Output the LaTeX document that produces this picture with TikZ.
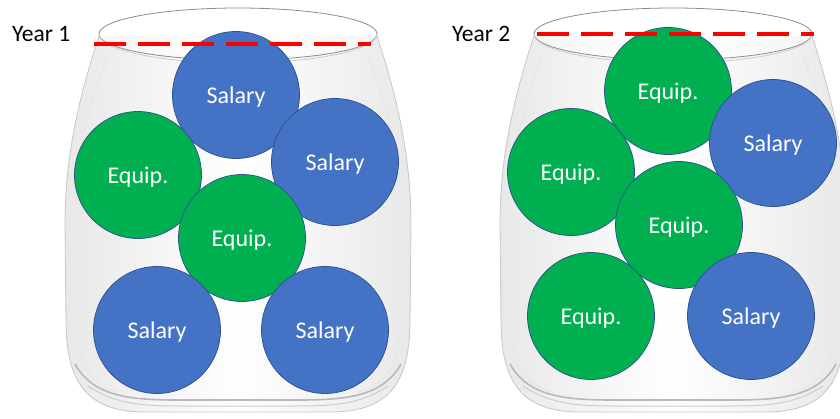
\documentclass[tikz,border=0pt]{standalone}
\usepackage{fontspec}
\setmainfont{Carlito}
\definecolor{salBlue}{HTML}{4472C4}
\definecolor{eqGreen}{HTML}{00B050}
\definecolor{ballEdge}{HTML}{2F528F}
\definecolor{dashRed}{HTML}{FF0000}
\tikzset{
  ball/.style={circle, draw=ballEdge, line width=0.75pt, minimum size=127pt, inner sep=0pt, text height=18pt, text depth=2pt, text=white, font=\fontsize{24}{28}\selectfont},
  salary/.style={ball, fill=salBlue},
  equip/.style={ball, fill=eqGreen},
  yearlbl/.style={inner sep=0pt, anchor=base west, text=black, font=\fontsize{23.5}{28}\selectfont},
  redline/.style={draw=dashRed, line width=4pt, dash pattern=on 32pt off 12pt},
  glass/.pic={
    \shade[left color=black!9, right color=black!9, middle color=white]
      (-139,2) .. controls (-158,60) and (-173,120) .. (-173,190) -- (-172,290)
      .. controls (-171,350) and (-150,377) .. (-95,378) -- (95,378)
      .. controls (150,377) and (171,350) .. (172,290) -- (173,190)
      .. controls (173,120) and (158,60) .. (139,2) -- cycle;
    \draw[black!22, line width=0.8pt]
      (-139,2) .. controls (-158,60) and (-173,120) .. (-173,190) -- (-172,290)
      .. controls (-171,350) and (-150,377) .. (-95,378) -- (95,378)
      .. controls (150,377) and (171,350) .. (172,290) -- (173,190)
      .. controls (173,120) and (158,60) .. (139,2);
    \draw[black!9, line width=1.5pt]
      (-130,22) .. controls (-150,70) and (-163,125) .. (-163,190) -- (-162,290)
      .. controls (-161,330) and (-150,350) .. (-120,358);
    \draw[black!9, line width=1.5pt]
      (130,22) .. controls (150,70) and (163,125) .. (163,190) -- (162,290)
      .. controls (161,330) and (150,350) .. (120,358);
    \draw[black!28, line width=1.6pt]
      (-163,330) .. controls (-145,362) and (-110,366) .. (-60,366) -- (60,366)
      .. controls (110,366) and (145,362) .. (163,330);
    \draw[black!20, line width=1pt]
      (-150,352) .. controls (-120,372) and (-90,372) .. (-50,372) -- (50,372)
      .. controls (90,372) and (120,372) .. (150,352);
    \fill[white, opacity=0.5] (0,0) ellipse [x radius=139, y radius=26];
    \draw[black!45, line width=0.8pt] (0,0) ellipse [x radius=139, y radius=26];
    \draw[black!20, line width=0.8pt] (139,0) arc[start angle=0, end angle=180, x radius=139, y radius=29];
  }
}
\begin{document}
\begin{tikzpicture}[x=1pt, y=-1pt]
\useasboundingbox (0,0) rectangle (840,418);
\fill[white] (0,0) rectangle (840,418);
\begin{scope}
\clip (0,0) rectangle (840,418);
\pic at (238,34) {glass};
\pic at (673,34) {glass};
\end{scope}
% Year 1
\node[yearlbl] (y1) at (12,41) {Year 1};
\node[salary] (a1) at (236,95) {Salary};
\node[equip]  (a2) at (138,175) {Equip.};
\node[salary] (a3) at (335,162) {Salary};
\node[equip]  (a4) at (242,238) {Equip.};
\node[salary] (a5) at (157,330) {Salary};
\node[salary] (a6) at (325,330) {Salary};
\coordinate (r1a) at (94,44);
\coordinate (r1b) at (371,44);
\draw[redline] (r1a) -- (r1b);
% Year 2
\node[yearlbl] (y2) at (452,41) {Year 2};
\node[equip]  (b1) at (668,91) {Equip.};
\node[salary] (b2) at (773,143) {Salary};
\node[equip]  (b3) at (571,172) {Equip.};
\node[equip]  (b4) at (679,225) {Equip.};
\node[equip]  (b5) at (591,316) {Equip.};
\node[salary] (b6) at (751,316) {Salary};
\coordinate (r2a) at (537,34);
\coordinate (r2b) at (814,34);
\draw[redline] (r2a) -- (r2b);
\end{tikzpicture}
\end{document}
